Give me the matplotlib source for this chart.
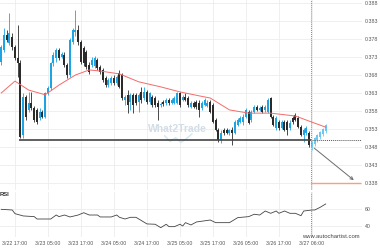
import numpy as np
import matplotlib
matplotlib.use("Agg")
import matplotlib.pyplot as plt

plt.rcParams["font.family"] = ["Liberation Sans", "DejaVu Sans"]

# hourly candles, index 0 = 3/22 12:00
opens = [.3716, .3749, .3791, .3769, .3786, .3758, .3727, .3713, .3513, .3619,
         .3583, .3602, .3588, .3583, .3561, .3577, .3563, .3630, .3644, .3713,
         .3727, .3749, .3730, .3736, .3708, .3680, .3772, .3799, .3805, .3772,
         .3755, .3744, .3708, .3708, .3705, .3722, .3702, .3694, .3672, .3652,
         .3658, .3672, .3658, .3686, .3680, .3611, .3624, .3605, .3624, .3624,
         .3605, .3633, .3616, .3633, .3605, .3619, .3616, .3602, .3597, .3605,
         .3602, .3611, .3602, .3602, .3602, .3630, .3611, .3619, .3616, .3591,
         .3602, .3605, .3602, .3588, .3597, .3594, .3605, .3597, .3555, .3527,
         .3499, .3527, .3527, .3519, .3527, .3519, .3541, .3549, .3549, .3563,
         .3577, .3555, .3577, .3591, .3583, .3591, .3583, .3577, .3616, .3563,
         .3533, .3549, .3533, .3549, .3549, .3533, .3561, .3569, .3561, .3536,
         .3513, .3519, .3519,
         .3480, .3488, .3499, .3508, .3516, .3524]
highs = [.3763, .3811, .3805, .3852, .3797, .3763, .3819, .3722, .3630, .3624,
         .3633, .3633, .3594, .3588, .3588, .3583, .3633, .3649, .3716, .3744,
         .3755, .3755, .3744, .3744, .3713, .3783, .3811, .3861, .3819, .3777,
         .3761, .3749, .3716, .3730, .3733, .3727, .3708, .3699, .3677, .3672,
         .3677, .3680, .3680, .3694, .3686, .3624, .3638, .3630, .3630, .3630,
         .3630, .3647, .3647, .3638, .3633, .3624, .3622, .3611, .3605, .3611,
         .3616, .3616, .3616, .3622, .3633, .3633, .3624, .3630, .3622, .3608,
         .3608, .3611, .3611, .3608, .3616, .3611, .3611, .3602, .3561, .3533,
         .3527, .3533, .3533, .3530, .3536, .3555, .3561, .3566, .3572, .3588,
         .3583, .3583, .3597, .3597, .3594, .3597, .3597, .3616, .3619, .3569,
         .3566, .3555, .3555, .3555, .3555, .3555, .3566, .3574, .3566, .3541,
         .3533, .3538, .3524,
         .3497, .3508, .3516, .3524, .3533, .3544]
lows = [.3708, .3744, .3772, .3763, .3749, .3722, .3674, .3505, .3505, .3555,
        .3577, .3583, .3549, .3544, .3555, .3561, .3561, .3624, .3638, .3705,
        .3716, .3722, .3727, .3702, .3672, .3674, .3766, .3788, .3763, .3711,
        .3705, .3697, .3683, .3702, .3699, .3694, .3683, .3661, .3647, .3647,
        .3652, .3652, .3652, .3644, .3611, .3597, .3574, .3583, .3574, .3597,
        .3577, .3602, .3611, .3599, .3599, .3591, .3591, .3555, .3591, .3594,
        .3597, .3597, .3599, .3599, .3599, .3591, .3608, .3608, .3591, .3588,
        .3588, .3586, .3563, .3583, .3594, .3591, .3574, .3547, .3524, .3494,
        .3491, .3513, .3516, .3513, .3486, .3516, .3538, .3547, .3541, .3561,
        .3544, .3549, .3574, .3580, .3580, .3574, .3577, .3574, .3561, .3538,
        .3527, .3527, .3530, .3524, .3513, .3527, .3544, .3552, .3533, .3511,
        .3494, .3513, .3480,
        .3472, .3483, .3494, .3502, .3511, .3519]
closes = [.3758, .3791, .3777, .3797, .3758, .3727, .3713, .3508, .3619, .3563,
          .3602, .3588, .3555, .3549, .3577, .3563, .3630, .3644, .3713, .3736,
          .3749, .3727, .3738, .3708, .3680, .3777, .3805, .3805, .3772, .3716,
          .3713, .3702, .3688, .3722, .3727, .3699, .3688, .3666, .3652, .3666,
          .3672, .3658, .3674, .3647, .3616, .3619, .3597, .3624, .3597, .3602,
          .3624, .3611, .3633, .3605, .3630, .3597, .3597, .3591, .3599, .3599,
          .3611, .3602, .3611, .3616, .3630, .3597, .3619, .3611, .3597, .3602,
          .3591, .3591, .3583, .3602, .3611, .3602, .3577, .3549, .3527, .3499,
          .3519, .3519, .3519, .3527, .3519, .3549, .3555, .3561, .3563, .3583,
          .3547, .3577, .3591, .3583, .3588, .3577, .3591, .3611, .3563, .3541,
          .3561, .3533, .3549, .3527, .3527, .3547, .3549, .3555, .3536, .3513,
          .3527, .3533, .3486,
          .3494, .3505, .3513, .3522, .3530, .3541]
pattern_end = 113  # candles from here on come after the breakout

ma_idx = [0, 5, 10, 16, 21, 27, 32, 36, 43, 50, 58, 65, 72, 76, 83, 90, 98, 107, 113, 118]
ma_val = [.3630, .3663, .3638, .3625, .3652, .3680, .3694, .3691, .3683, .3661,
          .3647, .3633, .3622, .3616, .3583, .3574, .3574, .3566, .3549, .3535]

rsi_idx = [0, 4, 5, 8, 12, 13, 18, 20, 21, 23, 25, 28, 30, 32, 35, 36, 40, 42, 43, 45,
           47, 49, 53, 56, 58, 60, 61, 63, 65, 66, 67, 69, 71, 76, 78, 83, 86, 90, 92, 94,
           96, 98, 100, 101, 103, 105, 107, 109, 110, 113, 114, 116, 118]
rsi_val = [59.6, 58.8, 54.5, 51.8, 51.0, 48.2, 48.2, 52.9, 51.0, 52.9, 50.6, 52.9, 55.6,
           52.9, 52.9, 50.6, 50.6, 52.9, 50.2, 48.2, 50.2, 50.2, 42.4, 42.0, 38.0, 42.0,
           39.2, 39.2, 42.0, 40.0, 43.9, 41.2, 44.7, 47.0, 43.9, 43.9, 49.8, 51.0, 53.8,
           52.9, 57.6, 54.9, 57.6, 54.9, 57.6, 54.9, 54.9, 52.1, 57.6, 58.8, 58.8, 62.0, 65.9]

support = 0.3500
target = 0.3380
breakout_idx = 112.6
support_start = 6.5
arrow_start = (113, 0.3482)
arrow_end = (129, 0.3383)
target_end = 130.8

price_ticks = [0.388, 0.383, 0.378, 0.373, 0.368, 0.363, 0.358, 0.353, 0.348, 0.343, 0.338]
time_ticks = [5, 17, 29, 41, 53, 65, 77, 89, 101, 113]
time_labels = ["3/22 17:00", "3/23 05:00", "3/23 17:00", "3/24 05:00", "3/24 17:00",
               "3/25 05:00", "3/25 17:00", "3/26 05:00", "3/26 17:00", "3/27 06:00"]

BLUE = "#1ea3e3"
DARK = "#2b2b2b"
LIGHT = "#6cc8f2"
GRID = "#ececec"
TXT = "#555555"
xlim = (-0.45, 131.2)

fig = plt.figure(figsize=(3.8, 2.5), dpi=100)
ax = fig.add_axes([0, 0.24, 362 / 380, 0.76])
rx = fig.add_axes([0, 0.052, 362 / 380, 0.18])

o = np.array(opens)
h = np.array(highs)
l = np.array(lows)
c = np.array(closes)
x = np.arange(len(o))
up = c >= o
colors = []
for i in range(len(o)):
    if i >= pattern_end:
        colors.append(LIGHT)
    elif up[i]:
        colors.append(BLUE)
    else:
        colors.append(DARK)

# grid
for t in time_ticks:
    ax.axvline(t, color=GRID, lw=0.6, zorder=0)
    rx.axvline(t, color=GRID, lw=0.6, zorder=0)
for p in price_ticks:
    ax.axhline(p, color=GRID, lw=0.6, zorder=0)
for v in [40, 60]:
    rx.axhline(v, color=GRID, lw=0.6, zorder=0)

# watermark
ax.text(64, 0.3530, "What2Trade", color="#d3dde6", fontsize=7.5, fontweight="bold",
        ha="center", va="center", zorder=1)
ax.plot([0.455, 0.47, 0.485, 0.50, 0.515, 0.53], [0.285, 0.255, 0.275, 0.25, 0.27, 0.295],
        transform=ax.transAxes, color="#d3e6f2", lw=1.0, zorder=1)

# candles
ax.vlines(x, l, h, colors=colors, lw=0.6, zorder=2)
bottom = np.minimum(o, c)
height = np.maximum(np.abs(c - o), 0.00018)
ax.bar(x, height, bottom=bottom, width=0.72, color=colors, linewidth=0, zorder=3)

ax.plot(ma_idx, ma_val, color="#f36b6b", lw=0.7, zorder=4)

# pattern
ax.hlines(support, support_start, breakout_idx, color="#444444", lw=1.2, zorder=5)
ax.hlines(support, breakout_idx, xlim[1], color="#555555", lw=0.7, linestyles=(0, (1, 1)), zorder=5)
ax.hlines(target, breakout_idx, target_end, color="#f5a27c", lw=1.0, zorder=5)
ax.annotate("", xy=arrow_end, xytext=arrow_start,
            arrowprops=dict(arrowstyle="->", color="#6d6d6d", lw=0.7, mutation_scale=5), zorder=6)
ax.axvline(breakout_idx, color="#888888", lw=0.7, ls=(0, (1, 1)), zorder=5)
rx.axvline(breakout_idx, color="#888888", lw=0.7, ls=(0, (1, 1)), zorder=5)

ax.set_xlim(*xlim)
ax.set_ylim(0.33605, 0.38883)
ax.yaxis.tick_right()
ax.set_yticks(price_ticks)
ax.set_yticklabels(["%.3f" % p for p in price_ticks])
ax.set_xticks([])
ax.tick_params(axis="y", length=0, pad=2, labelsize=3.8, labelcolor=TXT)
for s in ax.spines.values():
    s.set_visible(False)

# RSI
rx.plot(rsi_idx, rsi_val, color="#444444", lw=0.6, zorder=3)
rx.set_xlim(*xlim)
rx.set_ylim(27, 80)
rx.yaxis.tick_right()
rx.set_yticks([40, 60])
rx.set_xticks(time_ticks)
rx.set_xticklabels(time_labels)
rx.tick_params(axis="both", length=0, labelsize=3.8, labelcolor=TXT)
rx.tick_params(axis="y", pad=2)
rx.tick_params(axis="x", pad=3)
for s in rx.spines.values():
    s.set_visible(False)
rx.text(0.0, 1.0, "RSI", transform=rx.transAxes, fontsize=4.2, fontweight="bold",
        color="#333333", ha="left", va="top")
fig.text(360 / 380, 0.055, "www.autochartist.com", fontsize=4.2, color="#444444",
         ha="right", va="center")

fig.savefig("out.png", dpi=100)
